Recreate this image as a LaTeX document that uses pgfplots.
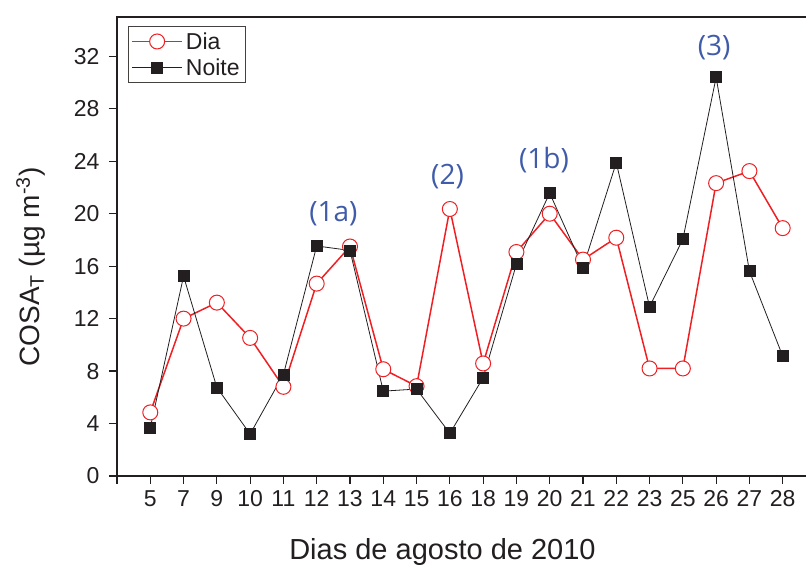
\documentclass[border=0pt]{standalone}
\usepackage{fontspec}
\setmainfont{Liberation Sans}
\newfontfamily\annfont{Open Sans}
\usepackage{pgfplots}
\pgfplotsset{compat=1.18}
\definecolor{dred}{HTML}{EE2024}
\definecolor{annblue}{HTML}{3F5BA9}
\definecolor{nblack}{HTML}{231F20}
\begin{document}
\begin{tikzpicture}
\begin{axis}[
  name=ax,
  scale only axis,
  width=690pt, height=459pt,
  xmin=-1, xmax=19.73, ymin=0, ymax=35,
  xtick={-1,0,...,19},
  xticklabels={,5,7,9,10,11,12,13,14,15,16,18,19,20,21,22,23,25,26,27,28},
  ytick={0,4,...,32},
  tick pos=left,
  tick align=outside,
  major tick length=8pt,
  clip=false,
  axis line style={line width=1.5pt, nblack},
  every tick/.style={line width=1.2pt, nblack},
  tick label style={font=\fontsize{23}{23}\selectfont, text=nblack},
  yticklabel style={xshift=-6pt},
  xticklabel style={yshift=-3pt},
  /pgf/number format/assume math mode=true,
  xlabel={Dias de agosto de 2010},
  ylabel={COSA\textsubscript{T} (µg m\textsuperscript{-3})},
  every axis x label/.style={at={(axis description cs:0.4717,0)}, anchor=base, yshift=-84pt, font=\fontsize{29}{29}\selectfont, text=nblack},
  every axis y label/.style={at={(axis description cs:-0.113,0.455)}, anchor=base, rotate=90, font=\fontsize{28}{28}\selectfont, text=nblack},
  legend style={at={(axis description cs:0,1)}, anchor=north west, xshift=11pt, yshift=-9pt,
    draw=nblack!85, line width=0.8pt, font=\fontsize{23}{23}\selectfont,
    inner xsep=3pt, inner ysep=3pt, row sep=2pt, nodes={inner sep=3pt, text=nblack}},
  legend cell align=left,
  legend image code/.code={\draw[mark repeat=2,mark phase=2,#1] plot coordinates {(0pt,0pt) (25pt,0pt) (50pt,0pt)};},
]
\addplot[dred, line width=1.5pt, mark=*, mark size=7.5pt, mark options={fill=white, draw=dred, line width=1pt}]
coordinates {
(0,4.85) (1,12.0) (2,13.22) (3,10.53) (4,6.8) (5,14.67) (6,17.5) (7,8.14) (8,6.85) (9,20.36)
(10,8.58) (11,17.08) (12,20.0) (13,16.5) (14,18.17) (15,8.2) (16,8.2) (17,22.33) (18,23.25) (19,18.9)
};
\addlegendentry{Dia}
\addplot[nblack, line width=0.8pt, mark=square*, mark size=5.5pt, mark options={fill=nblack, draw=nblack}]
coordinates {
(0,3.68) (1,15.23) (2,6.75) (3,3.2) (4,7.74) (5,17.54) (6,17.2) (7,6.47) (8,6.63) (9,3.25)
(10,7.49) (11,16.15) (12,21.57) (13,15.9) (14,23.9) (15,12.9) (16,18.05) (17,30.4) (18,15.62) (19,9.14)
};
\addlegendentry{Noite}
\node[text=annblue, font=\annfont\fontsize{28}{28}\selectfont] at (axis cs:5.5,20.0) {(1a)};
\node[text=annblue, font=\annfont\fontsize{28}{28}\selectfont] at (axis cs:8.93,22.8) {(2)};
\node[text=annblue, font=\annfont\fontsize{28}{28}\selectfont] at (axis cs:11.83,24.07) {(1b)};
\node[text=annblue, font=\annfont\fontsize{28}{28}\selectfont] at (axis cs:16.94,32.7) {(3)};
\end{axis}
\pgfresetboundingbox
\path ([xshift=-117pt,yshift=-91pt]ax.south west) rectangle ([xshift=-1pt,yshift=17pt]ax.north east);
\end{tikzpicture}
\end{document}
